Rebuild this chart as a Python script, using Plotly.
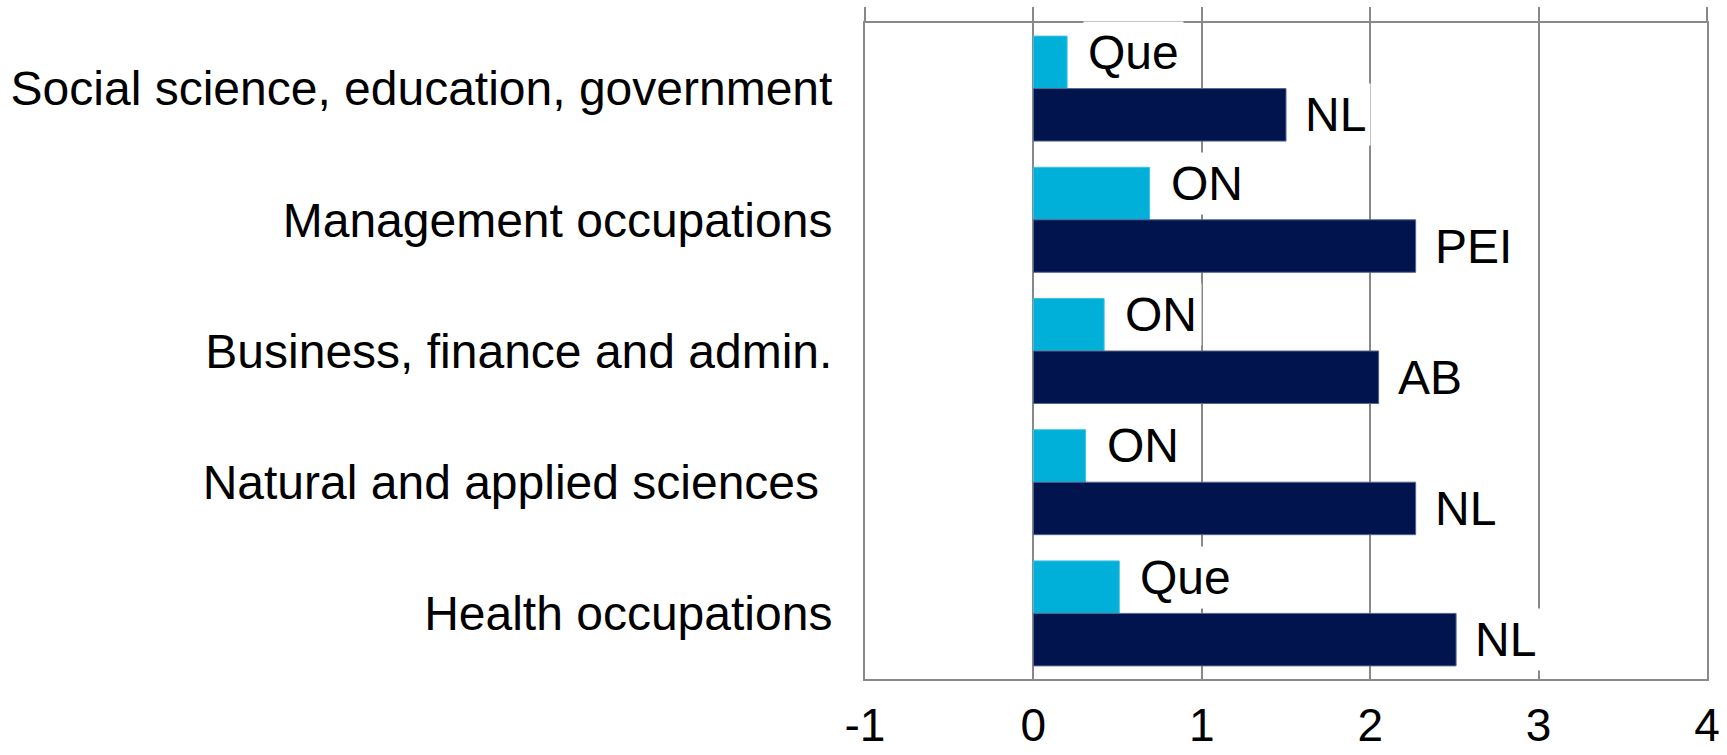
import plotly.graph_objects as go

# ---- data ----
categories = [
    "Social science, education, government",
    "Management occupations",
    "Business, finance and admin.",
    "Natural and applied sciences\u00a0",
    "Health occupations",
]
low_values = [0.2, 0.69, 0.42, 0.31, 0.51]
high_values = [1.5, 2.27, 2.05, 2.27, 2.51]
low_labels = ["Que", "ON", "ON", "ON", "Que"]
high_labels = ["NL", "PEI", "AB", "NL", "NL"]
x_ticks = [-1, 0, 1, 2, 3, 4]
x_tick_labels = ["-1", "0", "1", "2", "3", "4"]

# ---- style ----
LIGHT = "#00B0D8"
DARK = "#02144E"
GRID = "#898989"
FONT = "Liberation Sans, Arial, sans-serif"
FS = 48
BARGAP = 0.2

fig = go.Figure()
fig.add_bar(y=categories, x=low_values, orientation="h",
            marker=dict(color=LIGHT, line=dict(color="#3cc2e2", width=1)))
fig.add_bar(y=categories, x=high_values, orientation="h",
            marker=dict(color=DARK, line=dict(color="#55668a", width=1)))
# carrier trace for the top axis
fig.add_scatter(x=[None], y=[categories[0]], xaxis="x2", mode="markers",
                showlegend=False, hoverinfo="skip")

half = (1 - BARGAP) / 4  # centre offset of each bar inside its group
annotations = []
for i, (v, t) in enumerate(zip(low_values, low_labels)):
    annotations.append(dict(x=v, y=i - half, xref="x", yref="y", text=t,
                            showarrow=False, xanchor="left", yanchor="middle",
                            xshift=16, yshift=10, bgcolor="white", borderpad=4,
                            font=dict(size=FS, color="black", family=FONT)))
for i, (v, t) in enumerate(zip(high_values, high_labels)):
    annotations.append(dict(x=v, y=i + half, xref="x", yref="y", text=t,
                            showarrow=False, xanchor="left", yanchor="middle",
                            xshift=14, bgcolor="white", borderpad=4,
                            font=dict(size=FS, color="black", family=FONT)))

fig.update_layout(
    template="none",
    width=1727, height=755,
    margin=dict(l=865, r=20, t=23, b=76, pad=0),
    paper_bgcolor="white", plot_bgcolor="white",
    showlegend=False,
    barmode="group", bargap=BARGAP, bargroupgap=0,
    font=dict(family=FONT, size=FS, color="black"),
    annotations=annotations,
    xaxis=dict(range=[-1, 4], tickvals=x_ticks, ticktext=x_tick_labels,
               showgrid=True, gridcolor=GRID,
               gridwidth=1.5, zeroline=False, showline=True, linecolor=GRID,
               linewidth=2, ticks="outside", ticklen=5,
               tickcolor="rgba(0,0,0,0)", tickfont=dict(size=46, color="black"),
               automargin=False, fixedrange=True),
    xaxis2=dict(range=[-1, 4], tickvals=x_ticks, overlaying="x", side="top",
                anchor="y", showticklabels=False, ticks="outside", ticklen=14,
                tickcolor=GRID, tickwidth=1.5, showline=True, linecolor=GRID,
                linewidth=2, showgrid=False, zeroline=False, automargin=False),
    yaxis=dict(type="category", autorange="reversed", showgrid=False,
               showline=True, mirror=True, linecolor=GRID, linewidth=2,
               ticks="outside", ticklen=21, tickcolor="rgba(0,0,0,0)",
               tickfont=dict(size=FS, color="black"), automargin=False,
               zeroline=False),
)

fig.write_html("out.html", include_plotlyjs=True,
               config={"displayModeBar": False},
               post_script="document.body.style.margin='0';document.body.style.overflow='hidden';")
